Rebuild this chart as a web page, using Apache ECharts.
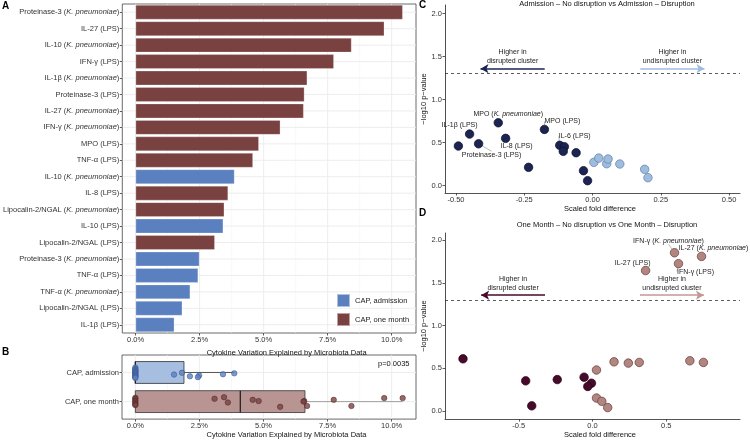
<!DOCTYPE html>
<html>
<head>
<meta charset="utf-8">
<script src="https://cdn.jsdelivr.net/npm/echarts@6.0.0/dist/echarts.min.js"></script>
<style>
html,body{margin:0;padding:0;background:#ffffff;}
#chart{width:750px;height:440px;}
</style>
</head>
<body>
<div id="chart"></div>
<script>
// ---------------- DATA ----------------
// Panel A: top-20 cytokine variation explained (%)
const barCategories = [
  'Proteinase-3 (K. pneumoniae)', 'IL-27 (LPS)', 'IL-10 (K. pneumoniae)', 'IFN-γ (LPS)',
  'IL-1β (K. pneumoniae)', 'Proteinase-3 (LPS)', 'IL-27 (K. pneumoniae)', 'IFN-γ (K. pneumoniae)',
  'MPO (LPS)', 'TNF-α (LPS)', 'IL-10 (K. pneumoniae)', 'IL-8 (LPS)',
  'Lipocalin-2/NGAL (K. pneumoniae)', 'IL-10 (LPS)', 'Lipocalin-2/NGAL (LPS)', 'Proteinase-3 (K. pneumoniae)',
  'TNF-α (LPS)', 'TNF-α (K. pneumoniae)', 'Lipocalin-2/NGAL (LPS)', 'IL-1β (LPS)'
];
const barValues = [10.43, 9.71, 8.43, 7.74, 6.70, 6.59, 6.56, 5.65, 4.81, 4.58,
                   3.86, 3.61, 3.46, 3.42, 3.09, 2.49, 2.44, 2.13, 1.82, 1.51];
const barGroups = ['one','one','one','one','one','one','one','one','one','one',
                   'adm','one','one','adm','one','adm','adm','adm','adm','adm'];
const groupLabels = { adm: 'CAP, admission', one: 'CAP, one month' };
const pctTicks = [0, 2.5, 5, 7.5, 10];
const pctMinorGrid = [1.25, 3.75, 6.25, 8.75];
const axisTitleAB = 'Cytokine Variation Explained by Microbiota Data';

// Panel B: all 20 values per time point, with the vertical jitter
const boxCategories = ['CAP, admission', 'CAP, one month'];
const admissionExplained = [3.86, 3.42, 2.49, 2.44, 2.13, 1.82, 1.51,
                            0, 0, 0, 0, 0, 0, 0, 0, 0, 0, 0, 0, 0];
const admissionJitter = [0.03, 0.06, 0.10, 0.16, 0.13, 0.01, 0.07,
                         -0.17, -0.12, -0.09, -0.06, -0.03, -0.01, 0.02, 0.05, 0.08, 0.11, 0.13, 0.16, 0.19];
const oneMonthExplained = [10.43, 9.71, 8.43, 7.74, 6.70, 6.59, 6.56, 5.65, 4.81, 4.58, 3.61, 3.46, 3.09,
                           0, 0, 0, 0, 0, 0, 0];
const oneMonthJitter = [-0.12, -0.12, 0.15, -0.06, 0.15, -0.02, 0.0, 0.18, -0.02, -0.06, 0.03, -0.15, -0.10,
                        -0.13, -0.10, -0.04, 0.0, 0.05, 0.10, 0.12];
const pValueText = 'p=0.0035';

// Panel C: admission volcano
const cTitle = 'Admission – No disruption vs Admission – Disruption';
const cDisruptedX = [-0.491, -0.450, -0.417, -0.345, -0.318, -0.234, -0.176, -0.120, -0.103, -0.107, -0.060, -0.033, -0.018];
const cDisruptedY = [0.461, 0.600, 0.487, 0.731, 0.550, 0.213, 0.654, 0.469, 0.453, 0.399, 0.383, 0.174, 0.058];
const cDisruptedNames = ['', 'IL-1β (LPS)', 'Proteinase-3 (LPS)', 'MPO (K. pneumoniae)', 'IL-8 (LPS)', '',
                         'MPO (LPS)', 'IL-6 (LPS)', '', '', '', '', ''];
const cUndisruptedX = [0.005, 0.023, 0.052, 0.057, 0.100, 0.191, 0.203];
const cUndisruptedY = [0.271, 0.321, 0.255, 0.310, 0.252, 0.190, 0.093];
const cXTicks = [-0.5, -0.25, 0, 0.25, 0.5];

// Panel D: one-month volcano
const dTitle = 'One Month – No disruption vs One Month – Disruption';
const dDisruptedX = [-0.878, -0.453, -0.412, -0.239, -0.057, -0.007, -0.032];
const dDisruptedY = [0.609, 0.351, 0.058, 0.366, 0.394, 0.324, 0.285];
const dUndisruptedX = [0.556, 0.739, 0.583, 0.360, 0.146, 0.243, 0.317, 0.660, 0.752, 0.027, 0.027, 0.063, 0.103];
const dUndisruptedY = [1.852, 1.809, 1.724, 1.643, 0.574, 0.559, 0.567, 0.586, 0.567, 0.478, 0.150, 0.111, 0.038];
const dUndisruptedNames = ['IFN-γ (K. pneumoniae)', 'IL-27 (K. pneumoniae)', 'IFN-γ (LPS)', 'IL-27 (LPS)',
                           '', '', '', '', '', '', '', '', ''];
const dXTicks = [-0.5, 0, 0.5];
const pTicks = [0, 0.5, 1, 1.5, 2];
const significance = -Math.log10(0.05);
const arrowTextLeft = 'Higher in\ndisrupted cluster';
const arrowTextRight = 'Higher in\nundisrupted cluster';

// ---------------- STYLE / LAYOUT ----------------
const FONT = '"Liberation Sans", Arial, Helvetica, sans-serif';
const FS = 7.5;
const TXT = '#333333';
const colors = {
  adm: '#5B80C0', one: '#7A4141',
  admBox: '#A6BEDF', oneBox: '#B89593',
  cDark: '#1B2452', cLight: '#9DBCE0',
  dDark: '#470A2A', dLight: '#B38581'
};
// label offsets [dx, dy, showLeaderLine]
const labelOffsets = {
  'IL-1β (LPS)': [-10, -9, false],
  'Proteinase-3 (LPS)': [13, 11, true],
  'MPO (K. pneumoniae)': [10, -9, false],
  'IL-8 (LPS)': [11, 8, false],
  'MPO (LPS)': [18, -8, true],
  'IL-6 (LPS)': [15, -9, true],
  'IFN-γ (K. pneumoniae)': [-6, -12, true],
  'IL-27 (K. pneumoniae)': [12, -8, false],
  'IL-27 (LPS)': [-13, -7, false],
  'IFN-γ (LPS)': [17, 8, true]
};
const arrowC = { near: 0.175, far: 0.41, y: 1.36 };
const arrowD = { near: 0.322, far: 0.755, y: 1.355 };

function rich(s) { return s.replace('K. pneumoniae', '{i|K. pneumoniae}'); }
const richItalic = (size, color) => ({ i: { fontStyle: 'italic', fontSize: size, fontFamily: FONT, color: color } });

function quantile(sorted, p) {
  const h = (sorted.length - 1) * p, lo = Math.floor(h);
  const hi = Math.min(lo + 1, sorted.length - 1);
  return sorted[lo] + (h - lo) * (sorted[hi] - sorted[lo]);
}
function boxStats(vals) {
  const s = vals.slice().sort((a, b) => a - b);
  const q1 = quantile(s, 0.25), md = quantile(s, 0.5), q3 = quantile(s, 0.75);
  const iqr = q3 - q1;
  const lo = s.find(v => v >= q1 - 1.5 * iqr);
  const hi = s.slice().reverse().find(v => v <= q3 + 1.5 * iqr);
  return [lo, q1, md, q3, hi];
}

function gridSeries(xi, yi, verticals, minors, horizontals, xRef) {
  const data = [];
  verticals.forEach(v => data.push([v, 0]));
  minors.forEach(v => data.push([v, 1]));
  horizontals.forEach(v => data.push([v, 2]));
  return {
    type: 'custom', xAxisIndex: xi, yAxisIndex: yi, silent: true, z: 0,
    encode: { x: -1, y: -1 },
    data: data,
    renderItem: function (params, api) {
      const cs = params.coordSys, v = api.value(0), k = api.value(1);
      if (k === 2) {
        const y = api.coord([xRef, v])[1];
        return { type: 'line', shape: { x1: cs.x, y1: y, x2: cs.x + cs.width, y2: y },
                 style: { stroke: '#EBEBEB', lineWidth: 0.9 } };
      }
      const x = api.coord([v, horizontals[0]])[0];
      return { type: 'line', shape: { x1: x, y1: cs.y, x2: x, y2: cs.y + cs.height },
               style: { stroke: k === 0 ? '#EBEBEB' : '#F4F4F4', lineWidth: k === 0 ? 0.9 : 0.6 } };
    }
  };
}

function labelledData(xs, ys, names) {
  return xs.map((x, i) => {
    const n = names ? names[i] : '';
    const item = { value: [x, ys[i]], name: n || '' };
    if (n) {
      item.label = { show: true };
      item.labelLine = { show: labelOffsets[n][2] };
    }
    return item;
  });
}

function volcanoSeries(xi, yi, xs, ys, names, fill, stroke, extra) {
  const s = {
    type: 'scatter', xAxisIndex: xi, yAxisIndex: yi, z: 3,
    symbolSize: 8.5,
    itemStyle: { color: fill, borderColor: stroke, borderWidth: 0.7, opacity: 1 },
    data: labelledData(xs, ys, names),
    label: {
      show: false, position: 'inside', color: '#222', fontSize: 7, fontFamily: FONT,
      formatter: p => rich(p.name), rich: richItalic(7, '#222')
    },
    labelLine: { show: false, lineStyle: { color: '#8A8A8A', width: 0.6 } },
    labelLayout: function (p) {
      const n = names ? names[p.dataIndex] : '';
      if (!n || !labelOffsets[n]) return {};
      return { dx: labelOffsets[n][0], dy: labelOffsets[n][1] };
    },
    emphasis: { disabled: true }
  };
  return Object.assign(s, extra || {});
}

function arrowMarkLine(cfg, leftColor, rightColor) {
  const lbl = (t) => ({ show: true, position: 'insideMiddleTop', formatter: t, color: '#222',
                        fontSize: 7, fontFamily: FONT, lineHeight: 9, distance: 3 });
  return {
    silent: true, animation: false, symbol: 'none', precision: 5,
    data: [
      { yAxis: significance, lineStyle: { type: [3, 3], color: '#333', width: 0.8 }, label: { show: false } },
      [ { coord: [-cfg.far, cfg.y], symbol: 'arrow', symbolSize: [7, 8],
          lineStyle: { color: leftColor, width: 1.5, type: 'solid' }, label: lbl(arrowTextLeft) },
        { coord: [-cfg.near, cfg.y], symbol: 'none' } ],
      [ { coord: [cfg.near, cfg.y], symbol: 'none',
          lineStyle: { color: rightColor, width: 1.5, type: 'solid' }, label: lbl(arrowTextRight) },
        { coord: [cfg.far, cfg.y], symbol: 'arrow', symbolSize: [7, 8] } ]
    ]
  };
}

const axisLabelBase = { fontSize: FS, fontFamily: FONT, color: TXT };
const nameStyle = (padLeft) => ({ fontSize: FS, fontFamily: FONT, color: '#111', padding: [0, 0, 0, padLeft] });

const boxData = [
  [0].concat(boxStats(admissionExplained)),
  [1].concat(boxStats(oneMonthExplained))
];
const boxFill = [colors.admBox, colors.oneBox];
const whiskerColor = ['#555555', '#A0A0A0'];

const chart = echarts.init(document.getElementById('chart'), null, { renderer: 'canvas' });

const option = {
  animation: false,
  backgroundColor: '#ffffff',
  textStyle: { fontFamily: FONT },
  grid: [
    { left: 122, top: 4, width: 294, height: 329, show: true, borderColor: '#444', borderWidth: 0.8, backgroundColor: 'transparent' },
    { left: 122, top: 355, width: 294, height: 67, show: true, borderColor: '#444', borderWidth: 0.8, backgroundColor: 'transparent' },
    { left: 445, top: 5, width: 295, height: 188 },
    { left: 445, top: 233, width: 295, height: 188.7 }
  ],
  legend: {
    data: [groupLabels.adm, groupLabels.one], left: 336, top: 293, orient: 'vertical',
    icon: 'rect', itemWidth: 13, itemHeight: 13, itemGap: 4, selectedMode: false,
    textStyle: { fontSize: FS, fontFamily: FONT, color: '#222' }, padding: 0
  },
  xAxis: [
    { gridIndex: 0, type: 'value', min: -0.52, max: 10.95,
      axisLine: { show: false, onZero: false }, splitLine: { show: false },
      axisTick: { show: true, length: 2.5, customValues: pctTicks, lineStyle: { color: '#333', width: 0.8 } },
      axisLabel: Object.assign({ customValues: pctTicks, margin: 3, formatter: v => v.toFixed(1) + '%' }, axisLabelBase),
      name: axisTitleAB, nameLocation: 'middle', nameGap: 7, nameTextStyle: nameStyle(35) },
    { gridIndex: 1, type: 'value', min: -0.52, max: 10.95,
      axisLine: { show: false, onZero: false }, splitLine: { show: false },
      axisTick: { show: true, length: 2.5, customValues: pctTicks, lineStyle: { color: '#333', width: 0.8 } },
      axisLabel: Object.assign({ customValues: pctTicks, margin: 3, formatter: v => v.toFixed(1) + '%' }, axisLabelBase),
      name: axisTitleAB, nameLocation: 'middle', nameGap: 9, nameTextStyle: nameStyle(35) },
    { gridIndex: 2, type: 'value', min: -0.54, max: 0.54,
      axisLine: { show: true, onZero: false, lineStyle: { color: '#555', width: 1 } }, splitLine: { show: false },
      axisTick: { show: true, length: 2.5, customValues: cXTicks, lineStyle: { color: '#333', width: 0.8 } },
      axisLabel: Object.assign({ customValues: cXTicks, margin: 3, formatter: v => v.toFixed(2) }, axisLabelBase),
      name: 'Scaled fold difference', nameLocation: 'middle', nameGap: 9, nameTextStyle: nameStyle(15) },
    { gridIndex: 3, type: 'value', min: -1, max: 1,
      axisLine: { show: true, onZero: false, lineStyle: { color: '#555', width: 1 } }, splitLine: { show: false },
      axisTick: { show: true, length: 2.5, customValues: dXTicks, lineStyle: { color: '#333', width: 0.8 } },
      axisLabel: Object.assign({ customValues: dXTicks, margin: 3, formatter: v => v.toFixed(1) }, axisLabelBase),
      name: 'Scaled fold difference', nameLocation: 'middle', nameGap: 9, nameTextStyle: nameStyle(15) }
  ],
  yAxis: [
    { gridIndex: 0, type: 'category', data: barCategories, inverse: true,
      axisLine: { show: false, onZero: false }, splitLine: { show: false },
      axisTick: { show: true, alignWithLabel: true, length: 2.5, lineStyle: { color: '#333', width: 0.8 } },
      axisLabel: Object.assign({ margin: 3, interval: 0, formatter: v => rich(v), rich: richItalic(FS, TXT) }, axisLabelBase) },
    { gridIndex: 1, type: 'value', min: -0.6, max: 1.6, inverse: true,
      axisLine: { show: false, onZero: false }, splitLine: { show: false },
      axisTick: { show: true, length: 2.5, customValues: [0, 1], lineStyle: { color: '#333', width: 0.8 } },
      axisLabel: Object.assign({ customValues: [0, 1], margin: 3, formatter: v => boxCategories[Math.round(v)] }, axisLabelBase) },
    { gridIndex: 2, type: 'value', min: -0.085, max: 2.1,
      axisLine: { show: true, onZero: false, lineStyle: { color: '#222', width: 0.8 } }, splitLine: { show: false },
      axisTick: { show: true, length: 2.5, customValues: pTicks, lineStyle: { color: '#333', width: 0.8 } },
      axisLabel: Object.assign({ customValues: pTicks, margin: 3, formatter: v => v.toFixed(1) }, axisLabelBase),
      name: '−log10 p−value', nameLocation: 'middle', nameGap: 11, nameTextStyle: nameStyle(0) },
    { gridIndex: 3, type: 'value', min: -0.097, max: 2.083,
      axisLine: { show: true, onZero: false, lineStyle: { color: '#222', width: 0.8 } }, splitLine: { show: false },
      axisTick: { show: true, length: 2.5, customValues: pTicks, lineStyle: { color: '#333', width: 0.8 } },
      axisLabel: Object.assign({ customValues: pTicks, margin: 3, formatter: v => v.toFixed(1) }, axisLabelBase),
      name: '−log10 p−value', nameLocation: 'middle', nameGap: 11, nameTextStyle: nameStyle(0) }
  ],
  series: [
    gridSeries(0, 0, pctTicks, pctMinorGrid, barCategories.map((c, i) => i), 0),
    { type: 'bar', name: groupLabels.adm, xAxisIndex: 0, yAxisIndex: 0, barWidth: '88%', barGap: '-100%', z: 2,
      itemStyle: { color: colors.adm, borderColor: 'rgba(255,255,255,0.5)', borderWidth: 0.5 },
      data: barValues.map((v, i) => barGroups[i] === 'adm' ? v : '-') },
    { type: 'bar', name: groupLabels.one, xAxisIndex: 0, yAxisIndex: 0, barWidth: '88%', barGap: '-100%', z: 2,
      itemStyle: { color: colors.one, borderColor: 'rgba(255,255,255,0.5)', borderWidth: 0.5 },
      data: barValues.map((v, i) => barGroups[i] === 'one' ? v : '-') },
    gridSeries(1, 1, pctTicks, pctMinorGrid, [0, 1], 0),
    { type: 'custom', xAxisIndex: 1, yAxisIndex: 1, z: 2, silent: true,
      data: boxData,
      encode: { x: [2, 4], y: 0 },
      renderItem: function (params, api) {
        const g = api.value(0);
        const st = [1, 2, 3, 4, 5].map(i => api.value(i));
        const h = api.size([0, 0.75])[1];
        const p = st.map(v => api.coord([v, g]));
        const y = p[0][1];
        const wc = whiskerColor[g];
        return { type: 'group', children: [
          { type: 'line', shape: { x1: p[0][0], y1: y, x2: p[1][0], y2: y }, style: { stroke: wc, lineWidth: 1 } },
          { type: 'line', shape: { x1: p[3][0], y1: y, x2: p[4][0], y2: y }, style: { stroke: wc, lineWidth: 1 } },
          { type: 'rect', shape: { x: p[1][0], y: y - h / 2, width: p[3][0] - p[1][0], height: h },
            style: { fill: boxFill[g], stroke: '#444', lineWidth: 0.9 } },
          { type: 'line', shape: { x1: p[2][0], y1: y - h / 2, x2: p[2][0], y2: y + h / 2 },
            style: { stroke: '#1A1A1A', lineWidth: 1.2 } }
        ] };
      } },
    { type: 'scatter', xAxisIndex: 1, yAxisIndex: 1, z: 3, symbolSize: 5.5, silent: true,
      itemStyle: { color: colors.adm, borderColor: '#2E4C85', borderWidth: 0.6 },
      data: admissionExplained.map((v, i) => [v, 0 + admissionJitter[i]]) },
    { type: 'scatter', xAxisIndex: 1, yAxisIndex: 1, z: 3, symbolSize: 5.5, silent: true,
      itemStyle: { color: colors.one, borderColor: '#4A1F1F', borderWidth: 0.6 },
      data: oneMonthExplained.map((v, i) => [v, 1 + oneMonthJitter[i]]) },
    volcanoSeries(2, 2, cDisruptedX, cDisruptedY, cDisruptedNames, colors.cDark, '#0B102A',
      { markLine: arrowMarkLine(arrowC, colors.cDark, colors.cLight) }),
    volcanoSeries(2, 2, cUndisruptedX, cUndisruptedY, null, colors.cLight, '#5F7FA3'),
    volcanoSeries(3, 3, dDisruptedX, dDisruptedY, null, colors.dDark, '#220012',
      { markLine: arrowMarkLine(arrowD, colors.dDark, '#C39793') }),
    volcanoSeries(3, 3, dUndisruptedX, dUndisruptedY, dUndisruptedNames, colors.dLight, '#5E3A38')
  ],
  graphic: [
    { type: 'text', x: 2, y: 1, style: { text: 'A', font: 'bold 10px ' + FONT, fill: '#000' } },
    { type: 'text', x: 2, y: 347, style: { text: 'B', font: 'bold 10px ' + FONT, fill: '#000' } },
    { type: 'text', x: 419, y: 0, style: { text: 'C', font: 'bold 10px ' + FONT, fill: '#000' } },
    { type: 'text', x: 419, y: 208, style: { text: 'D', font: 'bold 10px ' + FONT, fill: '#000' } },
    { type: 'text', x: 607, y: 0, style: { text: cTitle, font: FS + 'px ' + FONT, fill: '#111', align: 'center' } },
    { type: 'text', x: 607, y: 221, style: { text: dTitle, font: FS + 'px ' + FONT, fill: '#111', align: 'center' } },
    { type: 'text', x: 378, y: 360, style: { text: pValueText, font: FS + 'px ' + FONT, fill: '#111' } }
  ]
};
chart.setOption(option);
</script>
</body>
</html>
